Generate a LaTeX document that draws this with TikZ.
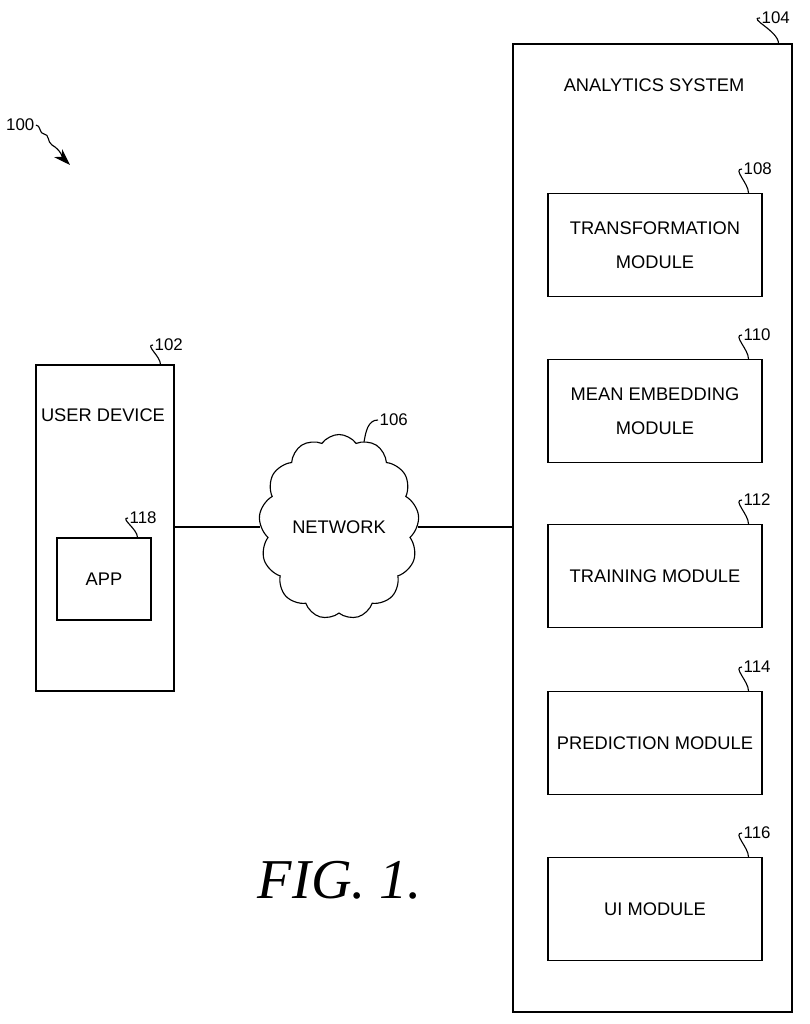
\documentclass[tikz,border=0pt]{standalone}
\usepackage{fontspec}
\setmainfont{Liberation Sans}
\newfontfamily\figfont{Liberation Serif}
\usetikzlibrary{shapes.symbols,arrows.meta}
\tikzset{
  box/.style={draw, thick, inner sep=0pt},
  lbl/.style={font=\fontsize{13}{24}\selectfont, align=center},
  refno/.style={font=\fontsize{12}{14}\selectfont, inner sep=1pt},
  hook/.style={thick}
}
\begin{document}
\begin{tikzpicture}[x=0.025cm,y=-0.025cm]
  \useasboundingbox (0,0) rectangle (809,1024);
  % analytics system
  \node[box, minimum width=279*0.025cm, minimum height=968*0.025cm] (sys) at (652.5,528) {};
  \node[lbl] at (654,85) {ANALYTICS SYSTEM};
  \node[refno, anchor=west] (n104) at (760,18) {104};
  \draw[hook] (n104.west) to[out=180,in=90] ([xshift=-10]sys.north east);
  % modules
  \foreach \y/\t/\n/\m in {245/{TRANSFORMATION\\MODULE}/108/trans,
                           411/{MEAN EMBEDDING\\MODULE}/110/mean,
                           576/{TRAINING MODULE}/112/train,
                           743/{PREDICTION MODULE}/114/pred,
                           909/{UI MODULE}/116/ui} {
    \node[box, minimum width=214*0.025cm, minimum height=103*0.025cm] (\m) at (655,\y) {};
    \node[lbl] at (\m) {\t};
    \node[refno, anchor=west] (r\m) at (742,\y-76) {\n};
    \draw[hook] (r\m.west) to[out=180,in=90] ([xshift=-10]\m.north east);
  }
  % user device
  \node[box, minimum width=138*0.025cm, minimum height=326*0.025cm] (dev) at (105,528) {};
  \node[lbl] at (103,415) {USER DEVICE};
  \node[refno, anchor=west] (n102) at (153,345) {102};
  \draw[hook] (n102.west) to[out=180,in=90] ([xshift=-10]dev.north east);
  \node[box, minimum width=94*0.025cm, minimum height=82*0.025cm] (app) at (104,579) {};
  \node[lbl] at (app) {APP};
  \node[refno, anchor=west] (n118) at (128,518) {118};
  \draw[hook] (n118.west) to[out=180,in=90] ([xshift=-10]app.north east);
  % network
  \node[cloud, draw, thick, cloud puffs=13, cloud puff arc=110, aspect=0.95,
        minimum width=158*0.025cm, minimum height=185*0.025cm, lbl] (net) at (339,527) {NETWORK};
  \node[refno, anchor=west] (n106) at (378,420) {106};
  \draw[hook] (n106.west) to[out=180,in=80] ++(-14,22);
  \draw[thick] (dev.east |- net.west) -- (net.west);
  \draw[thick] (net.east) -- (sys.west |- net.east);
  % figure label
  \node[font=\figfont\fontsize{40}{44}\selectfont\itshape] at (340,880) {FIG. 1.};
  % 100
  \node[refno, anchor=east] (n100) at (36,125) {100};
  \draw[hook, -{Stealth[length=12pt,width=8pt]}] (n100.east) to[out=0,in=180] (44,134)
     to[out=0,in=150] (52,145) to[out=-30,in=135] (70,165);
\end{tikzpicture}
\end{document}
